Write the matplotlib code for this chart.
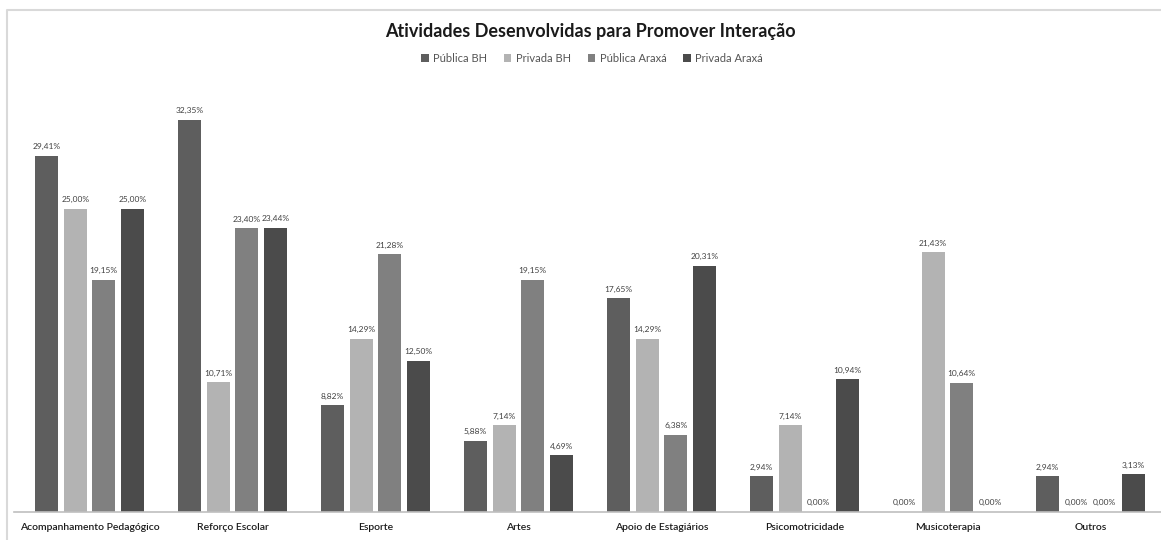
import numpy as np
import matplotlib
matplotlib.use("Agg")
import matplotlib.pyplot as plt
from matplotlib.lines import Line2D

categorias = ["Acompanhamento Pedagógico", "Reforço Escolar", "Esporte", "Artes",
              "Apoio de Estagiários", "Psicomotricidade", "Musicoterapia", "Outros"]
series = ["Pública BH", "Privada BH", "Pública Araxá", "Privada Araxá"]
publica_bh = [29.41, 32.35, 8.82, 5.88, 17.65, 2.94, 0.00, 2.94]
privada_bh = [25.00, 10.71, 14.29, 7.14, 14.29, 7.14, 21.43, 0.00]
publica_araxa = [19.15, 23.40, 21.28, 19.15, 6.38, 0.00, 10.64, 0.00]
privada_araxa = [25.00, 23.44, 12.50, 4.69, 20.31, 10.94, 0.00, 3.13]
valores = [publica_bh, privada_bh, publica_araxa, privada_araxa]
cores = ["#5e5e5e", "#b3b3b3", "#808080", "#4b4b4b"]

plt.rcParams['font.family'] = ['Lato', 'DejaVu Sans']

W, H = 1161, 540
fig = plt.figure(figsize=(W / 100, H / 100), dpi=100)

# eixo: px 14..1166 horizontal, base em y=512, 12.12 px por %
ymax = 35
left, right = 14, 1166
base = 512
ppu = 12.12
ax = fig.add_axes([left / W, (H - base) / H, (right - left) / W, ymax * ppu / H])

x = np.arange(len(categorias))
passo = 0.2
larg = 0.161
for i, (nome, vals, cor) in enumerate(zip(series, valores, cores)):
    pos = x + (i - 1.5) * passo
    ax.bar(pos, vals, width=larg, color=cor, label=nome, zorder=2)
    for p, v in zip(pos, vals):
        ax.annotate(f"{v:.2f}%".replace(".", ","), (p, v), xytext=(0, 4),
                    textcoords="offset points", ha="center", va="bottom",
                    fontsize=6, color="#404040")

ax.set_xlim(-0.528, len(categorias) - 1 + 0.528)
ax.set_ylim(0, ymax)
ax.set_yticks([])
ax.set_xticks(x)
ax.set_xticklabels(categorias, fontsize=7.5, color="#1a1a1a", fontweight="semibold")
ax.tick_params(axis="x", length=0, pad=8)
for s in ["top", "right", "left"]:
    ax.spines[s].set_visible(False)
ax.spines["bottom"].set_color("#bfbfbf")
ax.spines["bottom"].set_linewidth(1.2)

fig.text(590 / W, 1 - 32 / H, "Atividades Desenvolvidas para Promover Interação",
         ha="center", va="center", fontsize=13, fontweight="bold", color="#1a1a1a")

fig.legend(loc="center", bbox_to_anchor=(592 / W, 1 - 58 / H), ncol=4, frameon=False,
           fontsize=8, handlelength=0.7, handleheight=0.7, handletextpad=0.4,
           columnspacing=1.5, labelcolor="#555555")

# moldura do gráfico
fig.add_artist(Line2D([7 / W, 7 / W, 1], [0, 1 - 9.5 / H, 1 - 9.5 / H],
                      color="#d9d9d9", linewidth=1.5))

fig.savefig("out.png", dpi=100)
